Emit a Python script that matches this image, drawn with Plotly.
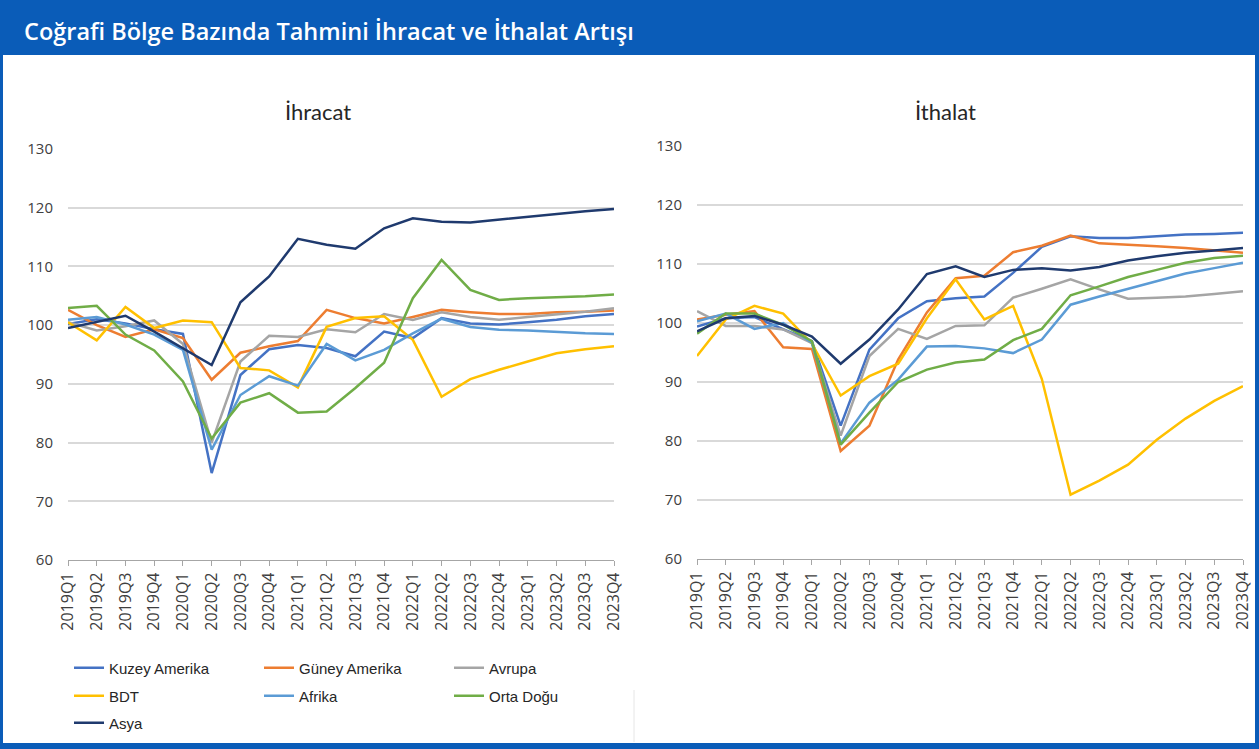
import plotly.graph_objects as go

quarters = ["2019Q1", "2019Q2", "2019Q3", "2019Q4", "2020Q1", "2020Q2", "2020Q3", "2020Q4",
            "2021Q1", "2021Q2", "2021Q3", "2021Q4", "2022Q1", "2022Q2", "2022Q3", "2022Q4",
            "2023Q1", "2023Q2", "2023Q3", "2023Q4"]

series_names = ["Kuzey Amerika", "Güney Amerika", "Avrupa", "BDT", "Afrika", "Orta Doğu", "Asya"]
series_colors = ["#4472C4", "#ED7D31", "#A5A5A5", "#FFC000", "#5B9BD5", "#70AD47", "#1F3A6E"]

# İhracat (exports)
kuzey_ihr = [100.2, 101.0, 100.3, 99.3, 98.5, 74.8, 91.5, 95.9, 96.6, 96.1, 94.7, 98.9, 97.8, 101.2, 100.3, 100.1, 100.5, 100.9, 101.5, 101.9]
guney_ihr = [102.6, 100.0, 98.0, 99.3, 97.8, 90.7, 95.3, 96.4, 97.3, 102.6, 101.2, 100.3, 101.4, 102.6, 102.2, 101.9, 101.9, 102.2, 102.3, 102.5]
avrupa_ihr = [100.5, 99.1, 99.8, 100.8, 96.8, 80.0, 93.8, 98.2, 98.0, 99.3, 98.8, 101.9, 100.9, 102.2, 101.4, 100.9, 101.4, 101.8, 102.3, 102.9]
bdt_ihr = [100.5, 97.4, 103.1, 99.5, 100.8, 100.5, 92.7, 92.3, 89.4, 99.7, 101.2, 101.5, 97.5, 87.8, 90.8, 92.4, 93.8, 95.2, 95.9, 96.4]
afrika_ihr = [100.9, 101.4, 100.1, 98.4, 95.8, 78.8, 88.1, 91.3, 89.7, 96.8, 94.0, 95.8, 98.6, 101.1, 99.7, 99.2, 99.1, 98.8, 98.6, 98.5]
ortadogu_ihr = [102.9, 103.3, 98.4, 95.7, 90.4, 80.7, 86.8, 88.4, 85.1, 85.3, 89.3, 93.6, 104.6, 111.1, 106.0, 104.3, 104.6, 104.7, 104.9, 105.2]
asya_ihr = [99.5, 100.5, 101.6, 98.9, 96.1, 93.2, 103.9, 108.3, 114.7, 113.7, 113.0, 116.5, 118.2, 117.6, 117.5, 118.0, 118.4, 118.9, 119.4, 119.8]

# İthalat (imports)
kuzey_ith = [99.4, 100.8, 101.0, 99.0, 96.9, 82.6, 95.5, 100.8, 103.7, 104.2, 104.5, 108.5, 112.9, 114.7, 114.4, 114.4, 114.7, 115.0, 115.1, 115.3]
guney_ith = [100.6, 101.4, 102.0, 95.9, 95.6, 78.3, 82.6, 93.8, 101.8, 107.6, 108.0, 112.0, 113.1, 114.8, 113.5, 113.3, 113.0, 112.7, 112.3, 111.9]
avrupa_ith = [102.0, 99.5, 99.5, 98.9, 96.6, 80.9, 94.4, 99.0, 97.3, 99.5, 99.6, 104.3, 105.8, 107.4, 105.7, 104.1, 104.3, 104.5, 104.9, 105.4]
bdt_ith = [94.4, 100.6, 102.9, 101.6, 96.5, 87.7, 91.0, 93.1, 100.8, 107.4, 100.6, 102.9, 90.5, 70.9, 73.3, 76.0, 80.2, 83.8, 86.8, 89.3]
afrika_ith = [100.3, 101.6, 99.0, 100.0, 96.6, 79.6, 86.5, 90.4, 96.0, 96.1, 95.7, 94.9, 97.2, 103.1, 104.5, 105.8, 107.1, 108.4, 109.3, 110.2]
ortadogu_ith = [98.2, 101.6, 101.6, 99.7, 96.9, 79.4, 84.8, 90.0, 92.1, 93.3, 93.8, 97.1, 99.0, 104.7, 106.2, 107.8, 109.0, 110.2, 111.0, 111.4]
asya_ith = [98.6, 100.8, 101.2, 99.7, 97.7, 93.1, 97.2, 102.3, 108.3, 109.6, 107.8, 109.0, 109.3, 108.9, 109.5, 110.6, 111.3, 111.9, 112.3, 112.7]

ihracat = [kuzey_ihr, guney_ihr, avrupa_ihr, bdt_ihr, afrika_ihr, ortadogu_ihr, asya_ihr]
ithalat = [kuzey_ith, guney_ith, avrupa_ith, bdt_ith, afrika_ith, ortadogu_ith, asya_ith]

title_text = "Coğrafi Bölge Bazında Tahmini İhracat ve İthalat Artışı"
panel_titles = ["İhracat", "İthalat"]

W, H = 1259, 749
def px_x(x):
    return x / W
def px_y(y):
    return 1 - y / H

legend_of = ["legend", "legend", "legend", "legend2", "legend2", "legend2", "legend3"]

fig = go.Figure()
for i, name in enumerate(series_names):
    fig.add_trace(go.Scatter(x=quarters, y=ihracat[i], name=name, mode="lines",
                             line=dict(color=series_colors[i], width=2.5),
                             xaxis="x", yaxis="y", legend=legend_of[i], showlegend=True))
for i, name in enumerate(series_names):
    fig.add_trace(go.Scatter(x=quarters, y=ithalat[i], name=name, mode="lines",
                             line=dict(color=series_colors[i], width=2.5),
                             xaxis="x2", yaxis="y2", showlegend=False))

base_family = "Open Sans, Liberation Sans, sans-serif"
xcommon = dict(type="category", range=[0, len(quarters) - 1], tickangle=-90,
               tickfont=dict(family=base_family, size=16, color="#404040"),
               showline=True, linecolor="#A6A6A6", linewidth=1.2, ticks="outside", ticklen=5,
               tickcolor="#A6A6A6", showgrid=False, zeroline=False, fixedrange=True, automargin=False)
ycommon = dict(range=[60, 130], dtick=10, tick0=60, showgrid=True, gridcolor="#D9D9D9", gridwidth=1.5,
               zeroline=False, showline=False, ticks="",
               tickfont=dict(family=base_family, size=15, color="#404040"),
               ticklabelstandoff=14, fixedrange=True, automargin=False)

legend_font = dict(family="Liberation Sans Narrow, Arial Narrow, Liberation Sans, Arial, sans-serif", size=15, color="#262626")
def leg(y):
    return dict(orientation="h", x=px_x(69), xanchor="left", y=px_y(y), yanchor="middle",
                entrywidth=145, entrywidthmode="pixels", font=legend_font, bgcolor="rgba(0,0,0,0)",
                itemwidth=30, tracegroupgap=0)

fig.update_layout(
    width=W, height=H,
    margin=dict(l=0, r=0, t=0, b=0, pad=0, autoexpand=False),
    paper_bgcolor="white", plot_bgcolor="white",
    xaxis=dict(domain=[px_x(68), px_x(614)], anchor="y", **xcommon),
    yaxis=dict(domain=[px_y(560), px_y(149)], anchor="x", **ycommon),
    xaxis2=dict(domain=[px_x(697), px_x(1243)], anchor="y2", **xcommon),
    yaxis2=dict(domain=[px_y(559), px_y(146)], anchor="x2", **ycommon),
    legend=leg(668), legend2=leg(696), legend3=leg(723),
    showlegend=True,
)

shapes = [
    dict(type="rect", xref="paper", yref="paper", x0=0, x1=1, y0=px_y(55), y1=1,
         fillcolor="#0A5CB8", line=dict(width=0), layer="below"),
    dict(type="rect", xref="paper", yref="paper", x0=0, x1=px_x(3), y0=0, y1=1,
         fillcolor="#0A5CB8", line=dict(width=0)),
    dict(type="rect", xref="paper", yref="paper", x0=px_x(1255), x1=1, y0=0, y1=1,
         fillcolor="#0A5CB8", line=dict(width=0)),
    dict(type="rect", xref="paper", yref="paper", x0=0, x1=1, y0=0, y1=px_y(743),
         fillcolor="#0A5CB8", line=dict(width=0)),
    dict(type="line", xref="paper", yref="paper", x0=px_x(634), x1=px_x(634), y0=px_y(742), y1=px_y(690),
         line=dict(color="#E6E6E6", width=1)),
]
fig.update_layout(shapes=shapes)

annotations = [
    dict(text=title_text, xref="paper", yref="paper", x=px_x(22), y=px_y(31), xanchor="left", yanchor="middle",
         showarrow=False, font=dict(family="Open Sans, sans-serif", size=23.5, color="white", weight=600)),
    dict(text=panel_titles[0], xref="paper", yref="paper", x=px_x(318), y=px_y(111), xanchor="center", yanchor="middle",
         showarrow=False, font=dict(family="Lato, Open Sans, sans-serif", size=22, color="#262626")),
    dict(text=panel_titles[1], xref="paper", yref="paper", x=px_x(945), y=px_y(111), xanchor="center", yanchor="middle",
         showarrow=False, font=dict(family="Lato, Open Sans, sans-serif", size=22, color="#262626")),
]
fig.update_layout(annotations=annotations)

fig.write_html("out.html", config={"displayModeBar": False},
               post_script="document.body.style.margin='0';document.body.style.overflow='hidden';")
